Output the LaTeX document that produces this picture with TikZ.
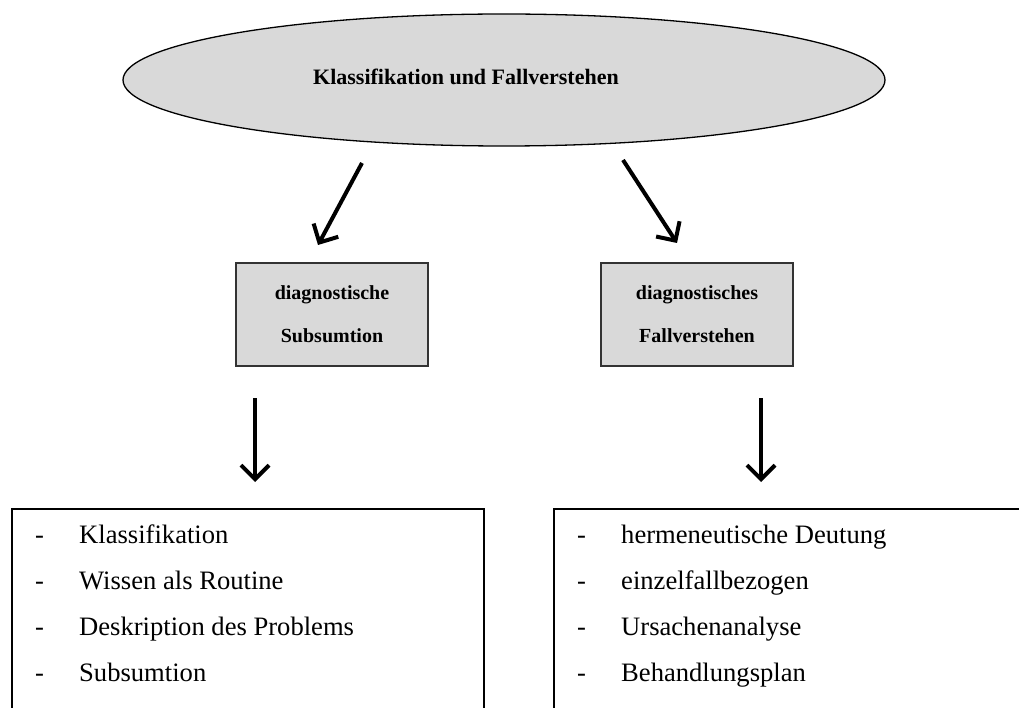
\documentclass[tikz,border=0pt]{standalone}
\usepackage{fontspec}
\setmainfont{Liberation Serif}
\usetikzlibrary{arrows.meta,shapes.geometric}
\definecolor{panel}{HTML}{D9D9D9}
\begin{document}
\begin{tikzpicture}[x=1pt,y=-1pt,
  oval/.style={ellipse, draw=black, line width=1.3pt, fill=panel,
    minimum width=762pt, minimum height=132pt, inner sep=0pt},
  title/.style={inner sep=0pt, font=\fontsize{22}{26}\selectfont\bfseries},
  labelbox/.style={draw=black!80, line width=1.2pt, fill=panel,
    minimum width=192pt, minimum height=103pt, inner sep=0pt, align=center,
    font=\fontsize{20}{43}\selectfont\bfseries},
  listbox/.style={draw=black, line width=2pt, anchor=north west,
    minimum height=300pt, inner sep=0pt},
  item/.style={anchor=base west, inner sep=0pt,
    font=\fontsize{26.6}{30}\selectfont},
  flow/.style={line width=4pt,
    -{Straight Barb[length=14pt,width=28pt,line width=4pt]}}
]
\useasboundingbox (0,0) rectangle (1019,708);
\clip (0,0) rectangle (1019,708);

% top concept
\node[oval] (top) at (504,80) {};
\node[title] (toptext) at (466,77) {Klassifikation und Fallverstehen};

% second level
\node[labelbox] (sub) at (332,314.5) {diagnostische\\Subsumtion};
\node[labelbox] (fall) at (697,314.5) {diagnostisches\\Fallverstehen};

% bottom lists
\node[listbox, minimum width=472pt] (lsub) at (11,508) {};
\node[listbox, minimum width=520pt] (lfall) at (553,508) {};

\foreach \t [count=\i] in {Klassifikation, Wissen als Routine, Deskription des Problems, Subsumtion}{
  \node[item] (ld\i) at (35,{497+46*\i}) {-};
  \node[item] (lt\i) at (79,{497+46*\i}) {\t};
}
\foreach \t [count=\i] in {hermeneutische Deutung, einzelfallbezogen, Ursachenanalyse, Behandlungsplan}{
  \node[item] (rd\i) at (577,{497+46*\i}) {-};
  \node[item] (rt\i) at (621,{497+46*\i}) {\t};
}

% arrow end points
\coordinate (a1s) at (362,163);
\coordinate (a1e) at (318,245);
\coordinate (a2s) at (623,160);
\coordinate (a2e) at (677,243);
\coordinate (a3s) at (255,398);
\coordinate (a3e) at (255,482);
\coordinate (a4s) at (761,398);
\coordinate (a4e) at (761,482);

\draw[flow] (a1s) -- (a1e);
\draw[flow] (a2s) -- (a2e);
\draw[flow] (a3s) -- (a3e);
\draw[flow] (a4s) -- (a4e);
\end{tikzpicture}
\end{document}
